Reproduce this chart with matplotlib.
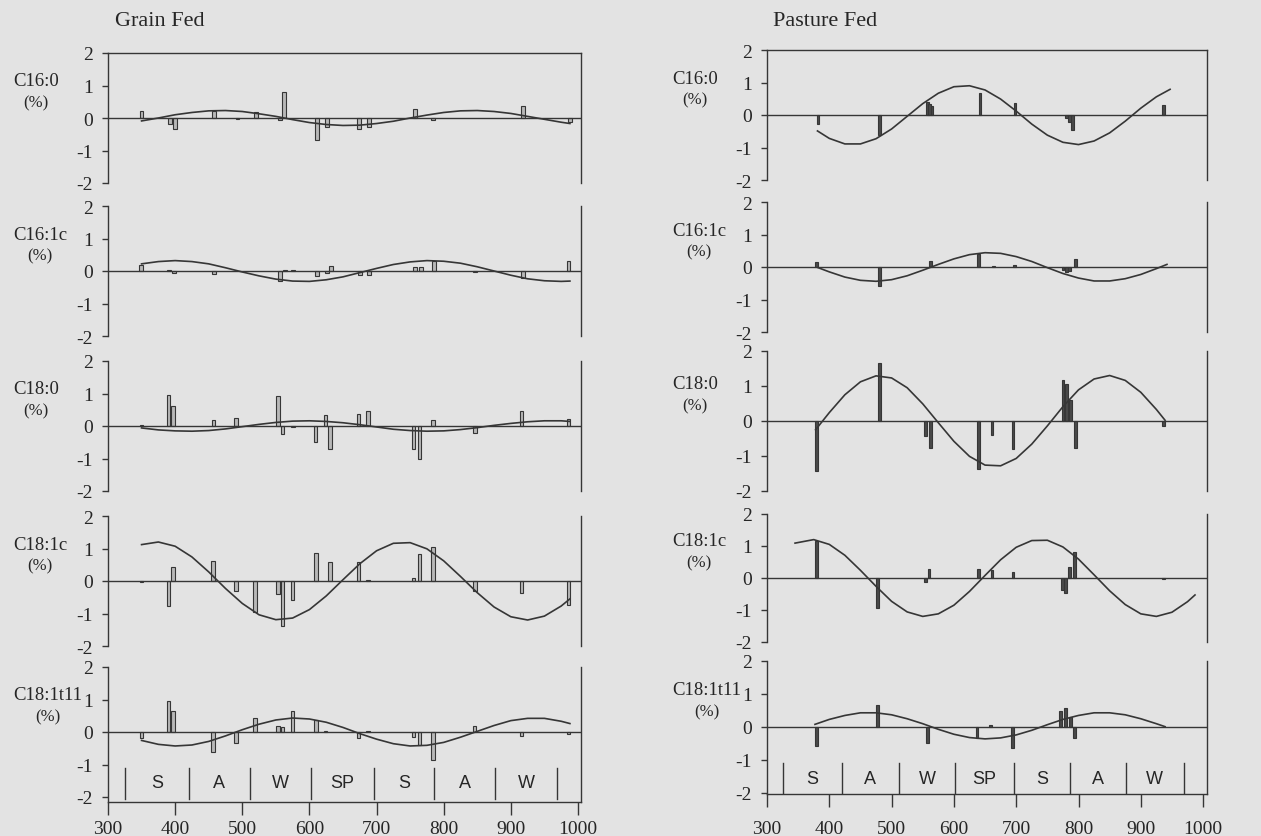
import matplotlib
matplotlib.use("Agg")
import matplotlib.pyplot as plt

plt.rcParams['font.family'] = ['Liberation Serif', 'DejaVu Serif']
plt.rcParams['axes.unicode_minus'] = False

W, H = 1261, 837

fatty_acids = ["C16:0", "C16:1c", "C18:0", "C18:1c", "C18:1t11"]
season_edges = [326, 420, 512, 602, 696, 786, 876, 969]
season_names = ["S", "A", "W", "SP", "S", "A", "W"]
x_ticks = [300, 400, 500, 600, 700, 800, 900, 1000]
y_ticks = [-2, -1, 0, 1, 2]

# ---- grain fed ----
grain_fit_x = [350, 375, 400, 425, 450, 475, 500, 525, 550, 575, 600, 625, 650,
               675, 700, 725, 750, 775, 800, 825, 850, 875, 900, 925, 950, 975, 988]
grain_c160_fit = [-0.09, 0.00, 0.10, 0.17, 0.22, 0.23, 0.20, 0.13, 0.05, -0.05, -0.14, -0.20, -0.23,
                  -0.22, -0.17, -0.10, 0.00, 0.09, 0.17, 0.22, 0.23, 0.20, 0.14, 0.05, -0.04, -0.13, -0.17]
grain_c161_fit = [0.22, 0.29, 0.32, 0.29, 0.22, 0.10, -0.03, -0.15, -0.25, -0.31, -0.32, -0.27, -0.18,
                  -0.05, 0.08, 0.20, 0.28, 0.32, 0.30, 0.24, 0.13, 0.00, -0.13, -0.24, -0.30, -0.32, -0.31]
grain_c180_fit = [-0.06, -0.12, -0.15, -0.16, -0.14, -0.09, -0.02, 0.05, 0.11, 0.15, 0.16, 0.14, 0.10,
                  0.04, -0.03, -0.10, -0.14, -0.16, -0.15, -0.11, -0.05, 0.02, 0.08, 0.13, 0.16, 0.16, 0.14]
grain_c181_fit = [1.12, 1.20, 1.07, 0.74, 0.28, -0.23, -0.69, -1.04, -1.19, -1.14, -0.88, -0.46, 0.04,
                  0.53, 0.93, 1.16, 1.18, 0.99, 0.62, 0.14, -0.36, -0.80, -1.10, -1.20, -1.08, -0.77, -0.55]
grain_t11_fit = [-0.26, -0.38, -0.43, -0.40, -0.29, -0.12, 0.07, 0.24, 0.37, 0.43, 0.40, 0.30, 0.14,
                 -0.05, -0.22, -0.36, -0.43, -0.41, -0.32, -0.16, 0.02, 0.20, 0.35, 0.42, 0.42, 0.33, 0.26]

grain_c160_bar_x = [350, 392, 400, 458, 493, 520, 556, 562, 611, 626, 674, 689, 757, 784, 918, 988]
grain_c160_bar_y = [0.21, -0.18, -0.34, 0.22, -0.03, 0.17, -0.05, 0.81, -0.68, -0.29, -0.34, -0.29,
                    0.28, -0.05, 0.38, -0.12]
grain_c161_bar_x = [349, 391, 398, 458, 556, 564, 576, 611, 626, 632, 675, 689, 757, 766, 786, 847, 918, 986]
grain_c161_bar_y = [0.18, 0.04, -0.05, -0.10, -0.31, 0.03, 0.03, -0.14, -0.05, 0.16, -0.13, -0.12,
                    0.13, 0.13, 0.31, -0.03, -0.23, 0.30]
grain_c180_bar_x = [350, 390, 397, 457, 491, 553, 560, 576, 609, 624, 631, 673, 687, 755, 764, 784, 847, 916, 986]
grain_c180_bar_y = [0.02, 0.94, 0.62, 0.20, 0.26, 0.91, -0.26, -0.02, -0.49, 0.33, -0.70, 0.37, 0.46,
                    -0.70, -1.03, 0.20, -0.22, 0.45, 0.22]
grain_c181_bar_x = [350, 390, 397, 456, 491, 519, 553, 560, 575, 610, 631, 673, 687, 755, 764, 784, 847, 916, 986]
grain_c181_bar_y = [-0.03, -0.77, 0.44, 0.62, -0.31, -0.95, -0.41, -1.38, -0.58, 0.87, 0.58, 0.58, 0.02,
                    0.10, 0.82, 1.05, -0.31, -0.36, -0.75]
grain_t11_bar_x = [350, 390, 397, 456, 491, 519, 553, 560, 575, 610, 624, 673, 687, 755, 764, 784, 846, 916, 986]
grain_t11_bar_y = [-0.18, 0.94, 0.65, -0.62, -0.33, 0.43, 0.18, 0.15, 0.64, 0.36, 0.04, -0.18, 0.02,
                   -0.15, -0.41, -0.87, 0.20, -0.12, -0.06]

# ---- pasture fed ----
pasture_c160_fit_x = [381, 400, 425, 450, 475, 500, 525, 550, 575, 600, 625, 650, 675,
                      700, 725, 750, 775, 800, 825, 850, 875, 900, 925, 947]
pasture_c160_fit = [-0.49, -0.72, -0.89, -0.89, -0.73, -0.43, -0.04, 0.35, 0.67, 0.87, 0.90, 0.77, 0.49,
                    0.12, -0.28, -0.62, -0.84, -0.91, -0.80, -0.55, -0.19, 0.21, 0.56, 0.79]
pasture_c161_fit_x = [382, 400, 425, 450, 475, 500, 525, 550, 575, 600, 625, 650, 675,
                      700, 725, 750, 775, 800, 825, 850, 875, 900, 925, 942]
pasture_c161_fit = [-0.02, -0.15, -0.31, -0.41, -0.44, -0.39, -0.27, -0.10, 0.08, 0.25, 0.38, 0.44, 0.42,
                    0.32, 0.17, -0.02, -0.20, -0.34, -0.43, -0.43, -0.36, -0.23, -0.05, 0.08]
pasture_c180_fit_x = [378, 400, 425, 450, 475, 500, 525, 550, 575, 600, 625, 650, 675,
                      700, 725, 750, 775, 800, 825, 850, 875, 900, 925, 939]
pasture_c180_fit = [-0.25, 0.24, 0.75, 1.12, 1.29, 1.23, 0.95, 0.49, -0.05, -0.58, -1.01, -1.26, -1.28,
                    -1.07, -0.66, -0.14, 0.41, 0.89, 1.20, 1.30, 1.16, 0.82, 0.33, 0.02]
pasture_c181_fit_x = [345, 375, 400, 425, 450, 475, 500, 525, 550, 575, 600, 625, 650, 675,
                      700, 725, 750, 775, 800, 825, 850, 875, 900, 925, 950, 975, 987]
pasture_c181_fit = [1.09, 1.20, 1.05, 0.71, 0.24, -0.26, -0.73, -1.06, -1.20, -1.12, -0.85, -0.42, 0.08, 0.57,
                    0.96, 1.17, 1.18, 0.97, 0.59, 0.10, -0.40, -0.83, -1.12, -1.20, -1.07, -0.74, -0.53]
pasture_t11_fit_x = [377, 400, 425, 450, 475, 500, 525, 550, 575, 600, 625, 650, 675,
                     700, 725, 750, 775, 800, 825, 850, 875, 900, 925, 939]
pasture_t11_fit = [0.08, 0.23, 0.35, 0.43, 0.43, 0.37, 0.25, 0.10, -0.07, -0.22, -0.32, -0.36, -0.33,
                   -0.24, -0.10, 0.07, 0.23, 0.35, 0.43, 0.43, 0.37, 0.25, 0.10, 0.01]

pasture_c160_bar_x = [382, 481, 557, 561, 565, 642, 698, 781, 786, 790, 937]
pasture_c160_bar_y = [-0.27, -0.63, 0.40, 0.33, 0.28, 0.68, 0.37, -0.08, -0.20, -0.47, 0.30]
pasture_c161_bar_x = [380, 480, 563, 640, 663, 697, 775, 781, 786, 795]
pasture_c161_bar_y = [0.15, -0.58, 0.20, 0.39, 0.02, 0.07, -0.10, -0.15, -0.12, 0.26]
pasture_c180_bar_x = [380, 480, 555, 562, 639, 661, 695, 775, 781, 787, 795, 936]
pasture_c180_bar_y = [-1.43, 1.67, -0.43, -0.76, -1.38, -0.41, -0.79, 1.17, 1.05, 0.59, -0.76, -0.14]
pasture_c181_bar_x = [379, 478, 555, 560, 639, 661, 695, 774, 779, 786, 794, 936]
pasture_c181_bar_y = [1.15, -0.94, -0.13, 0.28, 0.28, 0.26, 0.18, -0.39, -0.46, 0.33, 0.81, -0.03]
pasture_t11_bar_x = [379, 478, 558, 637, 659, 694, 771, 779, 787, 793]
pasture_t11_bar_y = [-0.57, 0.68, -0.47, -0.34, 0.05, -0.63, 0.47, 0.57, 0.31, -0.34]

ink = '#363636'
text_c = '#262626'

fig = plt.figure(figsize=(W / 100, H / 100), dpi=100)
fig.patch.set_facecolor('#e3e3e3')
renderer = fig.canvas.get_renderer()


def draw_column(title, title_x, name_x, x0, px_per_unit, xmax, zeros, units, ylow,
                fits, bars, bar_face, bar_w, sep_low, xpad):
    x1 = x0 + (xmax - 300) * px_per_unit
    fig.text(title_x / W, 1 - 22 / H, title, fontsize=16, color=text_c, va='center')
    for i in range(5):
        lo = ylow if i == 4 else -2
        top = zeros[i] - 2 * units[i]
        bot = zeros[i] - lo * units[i]
        ax = fig.add_axes([x0 / W, 1 - bot / H, (x1 - x0) / W, (bot - top) / H])
        ax.patch.set_alpha(0)
        ax.set_xlim(300, xmax)
        ax.set_ylim(lo, 2)
        for s in ax.spines.values():
            s.set_color(ink)
            s.set_linewidth(1.0)
        ax.spines['top'].set_visible(i == 0)
        ax.spines['bottom'].set_visible(i == 4)
        ax.axhline(0, color=ink, lw=1.0)
        fx, fy = fits[i]
        ax.plot(fx, fy, color=ink, lw=1.2)
        bx, by = bars[i]
        ax.bar(bx, by, width=bar_w, color=bar_face, edgecolor=ink, linewidth=0.8)
        ax.set_yticks(y_ticks)
        ax.tick_params(axis='y', direction='out', length=4, width=1, pad=7,
                       labelsize=14, colors=ink, labelcolor=text_c)
        if i == 4:
            ax.set_xticks(x_ticks)
            ax.tick_params(axis='x', direction='out', length=9, width=1, pad=xpad,
                           labelsize=14, colors=ink, labelcolor=text_c)
            for e in season_edges:
                ax.plot([e, e], [-1.1, sep_low], color=ink, lw=1.0, clip_on=False)
            for k, nm in enumerate(season_names):
                mid = (season_edges[k] + season_edges[k + 1]) / 2
                ax.text(mid, -1.55, nm, ha='center', va='center', fontsize=13,
                        family=['Liberation Sans', 'DejaVu Sans'], color=text_c)
        else:
            ax.set_xticks([])
        ny = zeros[i] - 37
        t = fig.text(name_x / W, 1 - ny / H, fatty_acids[i], fontsize=13.5,
                     color=text_c, ha='left', va='center')
        w = t.get_window_extent(renderer=renderer).width
        fig.text((name_x + w / 2) / W, 1 - (ny + 21) / H, "(%)", fontsize=12,
                 color=text_c, ha='center', va='center')


grain_fits = [(grain_fit_x, grain_c160_fit), (grain_fit_x, grain_c161_fit), (grain_fit_x, grain_c180_fit),
              (grain_fit_x, grain_c181_fit), (grain_fit_x, grain_t11_fit)]
grain_bars = [(grain_c160_bar_x, grain_c160_bar_y), (grain_c161_bar_x, grain_c161_bar_y),
              (grain_c180_bar_x, grain_c180_bar_y), (grain_c181_bar_x, grain_c181_bar_y),
              (grain_t11_bar_x, grain_t11_bar_y)]
pasture_fits = [(pasture_c160_fit_x, pasture_c160_fit), (pasture_c161_fit_x, pasture_c161_fit),
                (pasture_c180_fit_x, pasture_c180_fit), (pasture_c181_fit_x, pasture_c181_fit),
                (pasture_t11_fit_x, pasture_t11_fit)]
pasture_bars = [(pasture_c160_bar_x, pasture_c160_bar_y), (pasture_c161_bar_x, pasture_c161_bar_y),
                (pasture_c180_bar_x, pasture_c180_bar_y), (pasture_c181_bar_x, pasture_c181_bar_y),
                (pasture_t11_bar_x, pasture_t11_bar_y)]

draw_column("Grain Fed", 115, 13, 108, 0.6714, 1004,
            [119, 272, 427, 582, 733], [32.5, 32.5, 32.5, 32.5, 32.5], -2.15,
            grain_fits, grain_bars, '#b8b8b8', 5.5, -2.05, 4)
draw_column("Pasture Fed", 773, 672, 767, 0.623, 1006,
            [116, 268, 422, 579, 728], [32.5, 32.5, 35, 32, 33], -2.02,
            pasture_fits, pasture_bars, '#4a4a4a', 4.5, -2.0, 10)

fig.savefig("out.png", dpi=100, facecolor=fig.get_facecolor())
